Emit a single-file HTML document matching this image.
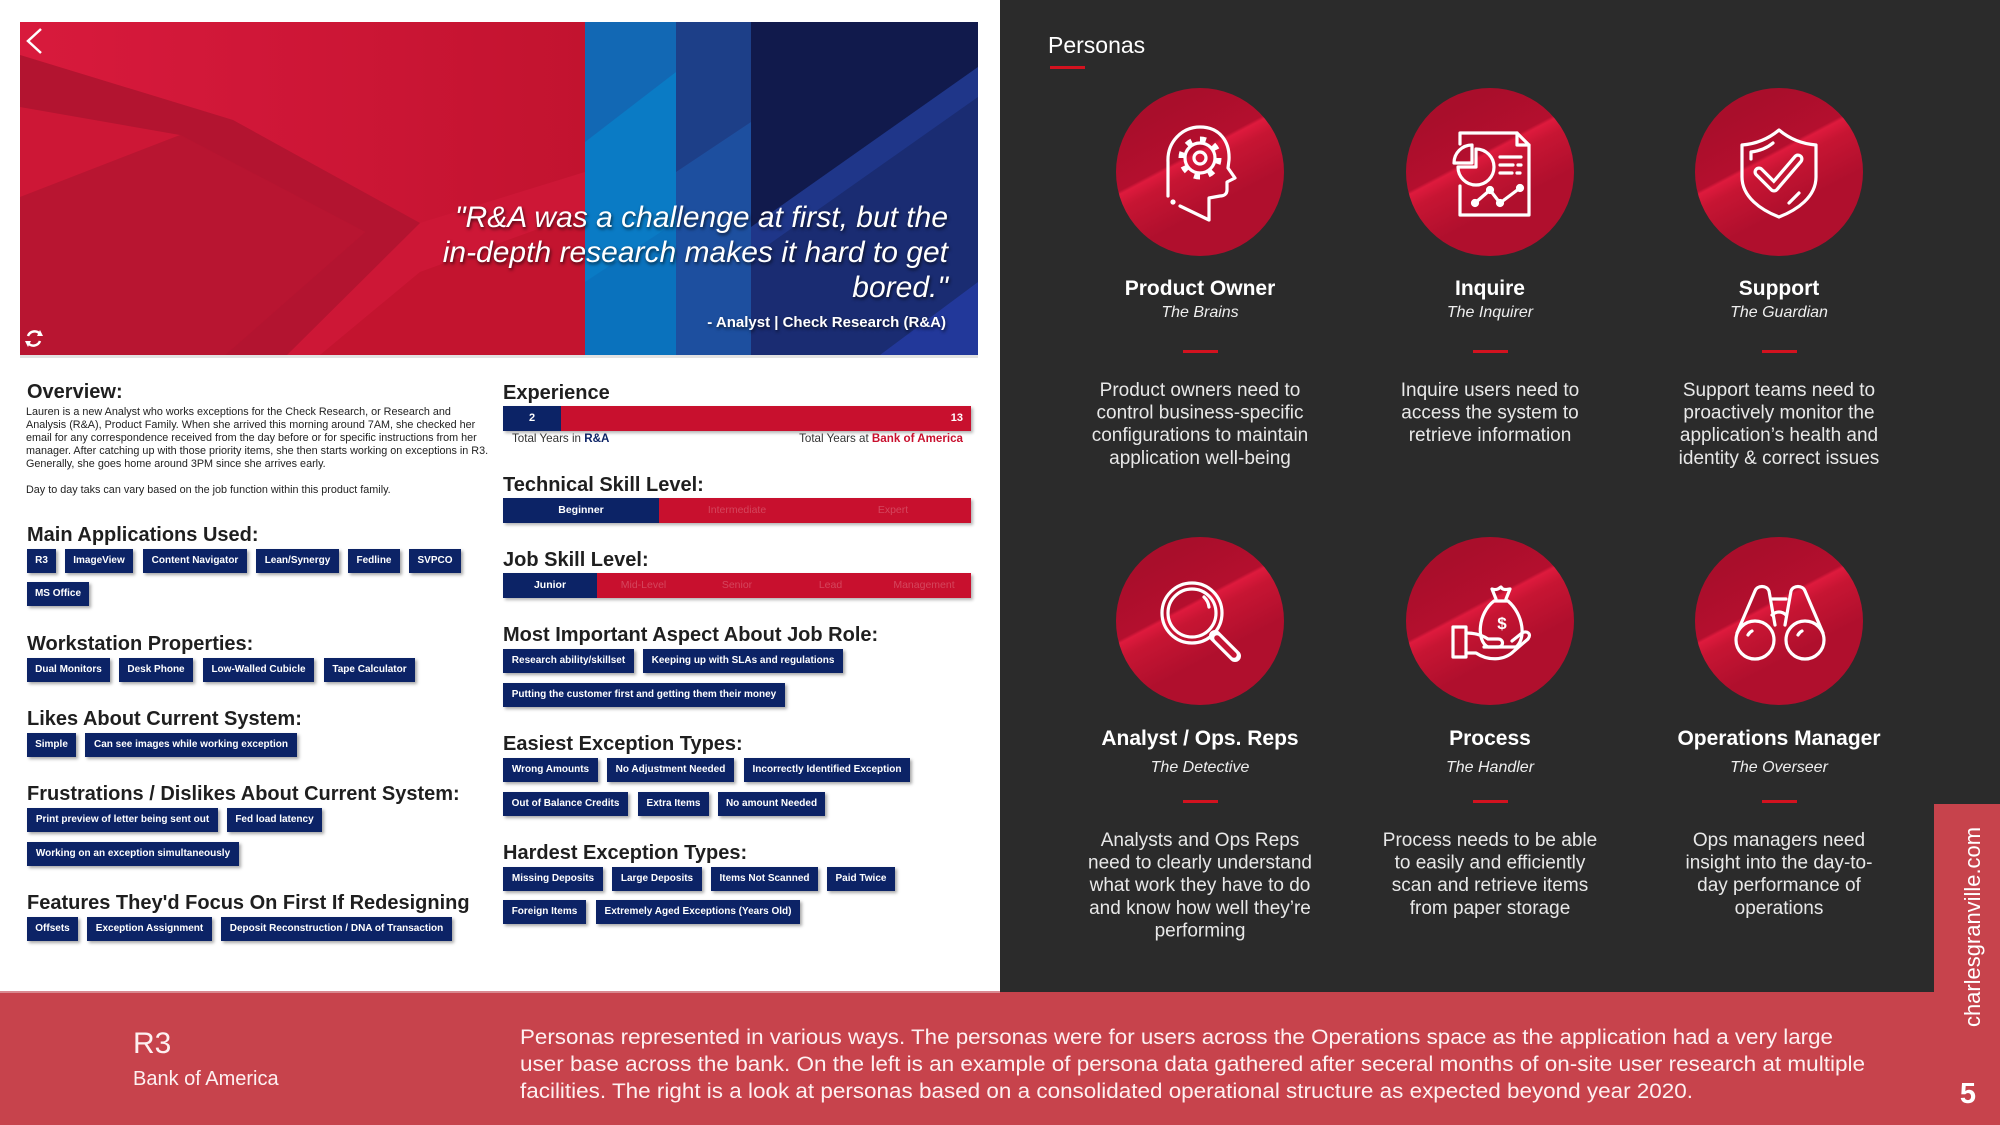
<!DOCTYPE html>
<html><head><meta charset="utf-8">
<style>
*{margin:0;padding:0;box-sizing:border-box}
body{width:2000px;height:1125px;overflow:hidden;position:relative;background:#fff;font-family:"Liberation Sans",Arial,sans-serif}
#bg{position:absolute;left:0;top:0}
.h{position:absolute;font-weight:bold;font-size:20px;line-height:20px;color:#1f1f1f;white-space:nowrap}
.t{position:absolute;height:24px;background:#0c2366;color:#fff;font-weight:bold;font-size:10px;line-height:24px;text-align:center;white-space:nowrap;box-shadow:2px 2px 3px rgba(0,0,0,.35)}
.p{position:absolute;left:26px;font-size:10.8px;line-height:13px;color:#222;white-space:nowrap}
.bar{position:absolute;left:503px;width:468px;height:25px;background:#c8102e;box-shadow:2px 2px 3px rgba(0,0,0,.3)}
.nav{position:absolute;left:0;top:0;height:25px;background:#0c2366}
.seg{position:absolute;top:0;height:25px;line-height:25px;text-align:center;font-size:10.5px;color:rgba(255,255,255,.22);white-space:nowrap}
.seg.on{color:#fff;font-weight:bold}
.q{position:absolute;right:1052px;font-style:italic;font-size:30px;line-height:35px;color:#fff;white-space:nowrap;text-shadow:1px 2px 3px rgba(0,0,0,.65)}
.lbl{position:absolute;top:432px;font-size:11.6px;line-height:13px;color:#333;white-space:nowrap}
</style></head>
<body>
<svg id="bg" width="2000" height="1125" viewBox="0 0 2000 1125" xmlns="http://www.w3.org/2000/svg" font-family="Liberation Sans, Arial, sans-serif">
<defs>
<clipPath id="hc"><rect x="0" y="0" width="958" height="333"/></clipPath>
<linearGradient id="cg" x1="0.25" y1="0.15" x2="0.55" y2="0.72">
<stop offset="0" stop-color="#a90e2b"/><stop offset="0.47" stop-color="#b40f2e"/><stop offset="0.5" stop-color="#de1a3d"/><stop offset="0.62" stop-color="#c71533"/><stop offset="1" stop-color="#b00f2d"/>
</linearGradient>
<linearGradient id="ug" x1="0" y1="0" x2="1" y2="0">
<stop offset="0" stop-color="#d81a3c"/><stop offset="0.4" stop-color="#d01738"/><stop offset="1" stop-color="#c2132f"/>
</linearGradient>
</defs>
<!-- hero -->
<rect x="20" y="355" width="958" height="3" fill="#e2e2e2"/>
<g transform="translate(20,22)" clip-path="url(#hc)">
<rect x="0" y="0" width="565" height="333" fill="#cd1736"/>
<polygon points="0,0 565,0 565,150 400,201 213,98 0,33" fill="url(#ug)"/>
<polygon points="0,175 160,113 345,210 205,333 0,333" fill="#b81531"/>
<polygon points="0,33 213,98 400,201 267,333 205,333 345,210 160,113 0,85" fill="#b31430"/>
<polygon points="565,190 565,333 300,333 400,250" fill="#c3142f"/>
<rect x="565" y="0" width="91" height="333" fill="#0a7bc5"/>
<polygon points="565,0 656,0 656,50 565,120" fill="#1268b4"/>
<polygon points="565,260 656,200 656,333 565,333" fill="#0a72bd"/>
<rect x="656" y="0" width="75" height="333" fill="#1d4f9f"/>
<polygon points="656,0 731,0 731,100 656,150" fill="#1d3f88"/>
<rect x="731" y="0" width="227" height="333" fill="#111a4c"/>
<polygon points="731,205 958,45 958,333 731,333" fill="#1a2c72"/>
<polygon points="731,205 958,45 958,75 731,235" fill="#2340a0" opacity="0.5"/>
<polygon points="860,333 958,260 958,333" fill="#22389a"/>
</g>
<path d="M41 29 L28 41 L41 53" fill="none" stroke="#fff" stroke-width="2.5"/>
<g fill="none" stroke="#fff" stroke-width="2.5">
<path d="M28 336 A7 7 0 0 1 40 334"/><path d="M40 341 A7 7 0 0 1 28 343"/>
</g>
<polygon points="40,330 43,336 37,336" fill="#fff"/><polygon points="28,347 25,341 31,341" fill="#fff"/>

<!-- right panel -->
<rect x="1000" y="0" width="1000" height="992" fill="#2b2b2b"/>
<text x="1048" y="53" font-size="23" fill="#fff">Personas</text>
<rect x="1050" y="66" width="35" height="3" fill="#d3121f"/>

<g fill="url(#cg)">
<circle cx="1200" cy="172" r="84"/><circle cx="1490" cy="172" r="84"/><circle cx="1779" cy="172" r="84"/>
<circle cx="1200" cy="621" r="84"/><circle cx="1490" cy="621" r="84"/><circle cx="1779" cy="621" r="84"/>
</g>

<!-- icons -->
<g fill="none" stroke="#fff" stroke-width="3.2" stroke-linecap="round" stroke-linejoin="round">
<g transform="translate(1200,172)">
<path d="M-32 24 L-32 -10 C-33 -30 -18 -45 0 -45 C20 -45 30 -30 29 -12 L28 -4 L35 6 L27 10 L27 18 C27 22 24 24 20 24 L9 26 L9 48 L-20 34"/>
<circle cx="-27" cy="30" r="1" fill="#fff"/>
<circle cx="0" cy="-14" r="15"/>
<circle cx="0" cy="-14" r="18.5" stroke-width="6" stroke-dasharray="6 8.5" stroke-linecap="butt"/>
<circle cx="0" cy="-14" r="6"/>
</g>
<g transform="translate(1490,172)">
<path d="M-30 -28 L-30 -39 L27 -39 L39 -27 L39 43 L-30 43 L-30 14"/>
<path d="M27 -39 L27 -27 L39 -27"/>
<path d="M-14 -23 A18 18 0 1 1 -32 -5 L-14 -5 Z"/>
<path d="M-18 -9 L-18 -27 A18 18 0 0 0 -36 -9 Z"/>
<path d="M10 -15 L31 -15 M10 -7 L23 -7 M28 -7 L31 -7 M10 1 L22 1 M27 1 L30 1"/>
<path d="M-15 31 L0 18 L10 31 L30 16"/>
<circle cx="-15" cy="31" r="2.5"/><circle cx="0" cy="18" r="2.5"/><circle cx="10" cy="31" r="2.5"/><circle cx="30" cy="16" r="2.5"/>
</g>
<g transform="translate(1779,172)">
<path d="M0 -42 C12 -32 24 -28 37 -27 L37 5 C37 25 18 38 0 45 C-18 38 -37 25 -37 5 L-37 -27 C-24 -28 -12 -32 0 -42 Z"/>
<path d="M-28 -13 L-28 -20 C-20 -21 -12 -24 -6 -29 M10 31 L20 21"/>
<path d="M-20 0 L-5 15 L19 -13" stroke-width="11"/>
<path d="M-20 0 L-5 15 L19 -13" stroke-width="4.5" stroke="#c21533"/>
</g>
<g transform="translate(1200,621)">
<circle cx="-8" cy="-8" r="30"/><circle cx="-8" cy="-8" r="24"/>
<path d="M4 -24 A17 17 0 0 1 9 -14"/>
<path d="M15 15 L35 35" stroke-width="12"/>
<path d="M17 17 L34 34" stroke-width="5.5" stroke="#c41533"/>
</g>
<g transform="translate(1490,621)">
<path d="M4 -20 C-12 -8 -14 20 -2 26 L26 26 C36 18 34 -6 18 -20 Z"/>
<path d="M6 -22 L2 -32 C8 -30 10 -34 11 -34 C13 -30 18 -32 20 -32 L16 -22"/>
<rect x="-37" y="6" width="13" height="30"/>
<path d="M-24 12 C-16 12 -8 14 -2 18 L8 18 C14 18 14 26 8 26 L-6 26"/>
<path d="M-24 32 L-14 32 C-2 40 14 40 24 30 L38 18 C42 13 37 9 32 12 L22 20"/>
</g>
<g transform="translate(1779,621)">
<circle cx="-24" cy="19" r="19"/><circle cx="26" cy="19" r="19"/>
<path d="M-42 12 L-24 -30 C-22 -36 -12 -36 -10 -30 L-4 4"/>
<path d="M44 12 L26 -30 C24 -36 14 -36 12 -30 L6 4"/>
<path d="M-7 -22 L7 -22 M-7 -6 C-3 -10 3 -10 7 -6"/>
<path d="M-31 14 A9 9 0 0 1 -27 10 M19 14 A9 9 0 0 1 23 10"/>
</g>
</g>
<g font-size="17" font-weight="bold" fill="#fff" text-anchor="middle"><text x="1502" y="629">$</text></g>

<!-- persona texts -->
<g text-anchor="middle" fill="#fff">
<g font-size="21" font-weight="bold">
<text x="1200" y="295">Product Owner</text><text x="1490" y="295">Inquire</text><text x="1779" y="295">Support</text>
<text x="1200" y="745">Analyst / Ops. Reps</text><text x="1490" y="745">Process</text><text x="1779" y="745">Operations Manager</text>
</g>
<g font-size="16" font-style="italic" fill="#eee">
<text x="1200" y="317">The Brains</text><text x="1490" y="317">The Inquirer</text><text x="1779" y="317">The Guardian</text>
<text x="1200" y="772">The Detective</text><text x="1490" y="772">The Handler</text><text x="1779" y="772">The Overseer</text>
</g>
<g font-size="19" fill="#e8e8e8">
<text x="1200" y="396">Product owners need to</text><text x="1200" y="418.6">control business-specific</text><text x="1200" y="441.2">configurations to maintain</text><text x="1200" y="463.8">application well-being</text>
<text x="1490" y="396">Inquire users need to</text><text x="1490" y="418.6">access the system to</text><text x="1490" y="441.2">retrieve information</text>
<text x="1779" y="396">Support teams need to</text><text x="1779" y="418.6">proactively monitor the</text><text x="1779" y="441.2">application’s health and</text><text x="1779" y="463.8">identity &amp; correct issues</text>
<text x="1200" y="846">Analysts and Ops Reps</text><text x="1200" y="868.6">need to clearly understand</text><text x="1200" y="891.2">what work they have to do</text><text x="1200" y="913.8">and know how well they’re</text><text x="1200" y="936.4">performing</text>
<text x="1490" y="846">Process needs to be able</text><text x="1490" y="868.6">to easily and efficiently</text><text x="1490" y="891.2">scan and retrieve items</text><text x="1490" y="913.8">from paper storage</text>
<text x="1779" y="846">Ops managers need</text><text x="1779" y="868.6">insight into the day-to-</text><text x="1779" y="891.2">day performance of</text><text x="1779" y="913.8">operations</text>
</g>
</g>
<g fill="#d3121f">
<rect x="1183" y="350" width="35" height="3"/><rect x="1473" y="350" width="35" height="3"/><rect x="1762" y="350" width="35" height="3"/>
<rect x="1183" y="800" width="35" height="3"/><rect x="1473" y="800" width="35" height="3"/><rect x="1762" y="800" width="35" height="3"/>
</g>

<!-- footer -->
<rect x="0" y="992" width="2000" height="133" fill="#c7434c"/>
<rect x="0" y="991" width="1000" height="2" fill="#d98990"/>
<rect x="1934" y="804" width="66" height="190" fill="#c7434c"/>
<text transform="translate(1980,1027) rotate(-90)" font-size="22" fill="#fff" textLength="200" lengthAdjust="spacingAndGlyphs">charlesgranville.com</text>
<text x="1968" y="1103" font-size="29" font-weight="bold" fill="#fff" text-anchor="middle">5</text>
<text x="133" y="1053" font-size="30" fill="#fdf0f1">R3</text>
<text x="133" y="1085" font-size="20" fill="#fdf0f1">Bank of America</text>
<g font-size="21" fill="#fdf0f1">
<text x="520" y="1044" textLength="1313" lengthAdjust="spacingAndGlyphs">Personas represented in various ways. The personas were for users across the Operations space as the application had a very large</text>
<text x="520" y="1071" textLength="1345" lengthAdjust="spacingAndGlyphs">user base across the bank. On the left is an example of persona data gathered after seceral months of on-site user research at multiple</text>
<text x="520" y="1098" textLength="1173" lengthAdjust="spacingAndGlyphs">facilities. The right is a look at personas based on a consolidated operational structure as expected beyond year 2020.</text>
</g>
</svg>

<!-- quote -->
<div class="q" style="top:200px">"R&amp;A was a challenge at first, but the</div>
<div class="q" style="top:235px">in-depth research makes it hard to get</div>
<div class="q" style="top:270px">bored."</div>
<div class="q" style="top:314px;font-style:normal;font-weight:bold;font-size:15px;line-height:18px;right:1054px">- Analyst | Check Research (R&amp;A)</div>

<!-- left column -->
<div class="h" style="left:27px;top:382px">Overview:</div>
<div class="p" style="top:406px">Lauren is a new Analyst who works exceptions for the Check Research, or Research and<br>Analysis (R&amp;A), Product Family. When she arrived this morning around 7AM, she checked her<br>email for any correspondence received from the day before or for specific instructions from her<br>manager. After catching up with those priority items, she then starts working on exceptions in R3.<br>Generally, she goes home around 3PM since she arrives early.<br><br>Day to day taks can vary based on the job function within this product family.</div>

<div class="h" style="left:27px;top:525px">Main Applications Used:</div>
<div class="t" style="left:27px;top:549px;width:29px">R3</div>
<div class="t" style="left:65px;top:549px;width:68px">ImageView</div>
<div class="t" style="left:143px;top:549px;width:104px">Content Navigator</div>
<div class="t" style="left:256px;top:549px;width:83px">Lean/Synergy</div>
<div class="t" style="left:348px;top:549px;width:52px">Fedline</div>
<div class="t" style="left:409px;top:549px;width:52px">SVPCO</div>
<div class="t" style="left:27px;top:582px;width:62px">MS Office</div>

<div class="h" style="left:27px;top:634px">Workstation Properties:</div>
<div class="t" style="left:27px;top:658px;width:83px">Dual Monitors</div>
<div class="t" style="left:119px;top:658px;width:74px">Desk Phone</div>
<div class="t" style="left:203px;top:658px;width:111px">Low-Walled Cubicle</div>
<div class="t" style="left:324px;top:658px;width:91px">Tape Calculator</div>

<div class="h" style="left:27px;top:709px">Likes About Current System:</div>
<div class="t" style="left:27px;top:733px;width:49px">Simple</div>
<div class="t" style="left:85px;top:733px;width:212px">Can see images while working exception</div>

<div class="h" style="left:27px;top:784px">Frustrations / Dislikes About Current System:</div>
<div class="t" style="left:27px;top:808px;width:191px">Print preview of letter being sent out</div>
<div class="t" style="left:227px;top:808px;width:95px">Fed load latency</div>
<div class="t" style="left:27px;top:842px;width:212px">Working on an exception simultaneously</div>

<div class="h" style="left:27px;top:893px">Features They'd Focus On First If Redesigning</div>
<div class="t" style="left:27px;top:917px;width:51px">Offsets</div>
<div class="t" style="left:87px;top:917px;width:125px">Exception Assignment</div>
<div class="t" style="left:221px;top:917px;width:231px">Deposit Reconstruction / DNA of Transaction</div>

<!-- middle column -->
<div class="h" style="left:503px;top:383px">Experience</div>
<div class="bar" style="top:406px">
<div class="nav" style="width:58px"></div>
<div class="seg on" style="left:0;width:58px;font-size:11px">2</div>
<div class="seg on" style="right:8px;font-size:11px">13</div>
</div>
<div class="lbl" style="left:512px">Total Years in <b style="color:#0c2366">R&amp;A</b></div>
<div class="lbl" style="right:1037px">Total Years at <b style="color:#c8102e">Bank of America</b></div>

<div class="h" style="left:503px;top:475px">Technical Skill Level:</div>
<div class="bar" style="top:498px">
<div class="nav" style="width:156px"></div>
<div class="seg on" style="left:0;width:156px">Beginner</div>
<div class="seg" style="left:156px;width:156px">Intermediate</div>
<div class="seg" style="left:312px;width:156px">Expert</div>
</div>

<div class="h" style="left:503px;top:550px">Job Skill Level:</div>
<div class="bar" style="top:573px">
<div class="nav" style="width:94px"></div>
<div class="seg on" style="left:0;width:94px">Junior</div>
<div class="seg" style="left:94px;width:93px">Mid-Level</div>
<div class="seg" style="left:187px;width:94px">Senior</div>
<div class="seg" style="left:281px;width:93px">Lead</div>
<div class="seg" style="left:374px;width:94px">Management</div>
</div>

<div class="h" style="left:503px;top:625px">Most Important Aspect About Job Role:</div>
<div class="t" style="left:503px;top:649px;width:131px">Research ability/skillset</div>
<div class="t" style="left:643px;top:649px;width:200px">Keeping up with SLAs and regulations</div>
<div class="t" style="left:503px;top:683px;width:282px">Putting the customer first and getting them their money</div>

<div class="h" style="left:503px;top:734px">Easiest Exception Types:</div>
<div class="t" style="left:503px;top:758px;width:95px">Wrong Amounts</div>
<div class="t" style="left:607px;top:758px;width:127px">No Adjustment Needed</div>
<div class="t" style="left:744px;top:758px;width:166px">Incorrectly Identified Exception</div>
<div class="t" style="left:503px;top:792px;width:125px">Out of Balance Credits</div>
<div class="t" style="left:638px;top:792px;width:71px">Extra Items</div>
<div class="t" style="left:718px;top:792px;width:107px">No amount Needed</div>

<div class="h" style="left:503px;top:843px">Hardest Exception Types:</div>
<div class="t" style="left:503px;top:867px;width:100px">Missing Deposits</div>
<div class="t" style="left:612px;top:867px;width:90px">Large Deposits</div>
<div class="t" style="left:711px;top:867px;width:107px">Items Not Scanned</div>
<div class="t" style="left:827px;top:867px;width:68px">Paid Twice</div>
<div class="t" style="left:503px;top:900px;width:83px">Foreign Items</div>
<div class="t" style="left:596px;top:900px;width:204px">Extremely Aged Exceptions (Years Old)</div>
</body></html>
